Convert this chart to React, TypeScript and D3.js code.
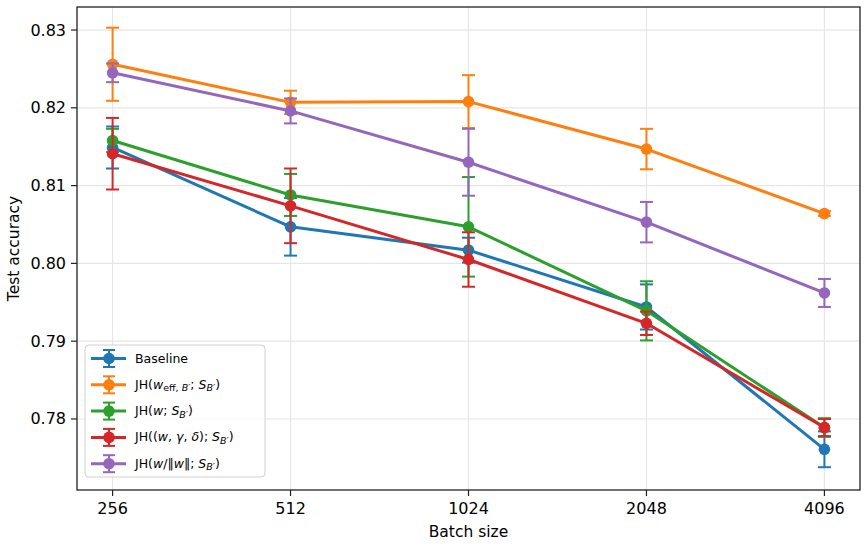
import React from "react";
import * as d3 from "d3";

// batch sizes on the x axis (log2 spaced)
const batchSizes = [256, 512, 1024, 2048, 4096];
const yTicks = [0.78, 0.79, 0.8, 0.81, 0.82, 0.83];

// mean test accuracy and spread per method
const baselineMean = [0.8149, 0.8047, 0.8017, 0.7944, 0.7761];
const baselineErr = [0.0027, 0.0037, 0.0016, 0.0029, 0.0023];
const effMean = [0.8256, 0.8207, 0.8208, 0.8147, 0.8064];
const effErr = [0.0047, 0.0015, 0.0034, 0.0026, 0.0003];
const wMean = [0.8158, 0.8088, 0.8047, 0.7939, 0.7789];
const wErr = [0.0015, 0.0027, 0.0064, 0.0038, 0.0012];
const wgdMean = [0.8141, 0.8074, 0.8005, 0.7923, 0.7789];
const wgdErr = [0.0046, 0.0048, 0.0035, 0.0015, 0.0011];
const normMean = [0.8245, 0.8196, 0.813, 0.8053, 0.7962];
const normErr = [0.0012, 0.0016, 0.0043, 0.0026, 0.0018];

type Seg = { t: string; i?: boolean; sub?: boolean };

const labelBaseline: Seg[] = [{ t: "Baseline" }];
const labelEff: Seg[] = [
  { t: "JH(" },
  { t: "w", i: true },
  { t: "eff, ", sub: true },
  { t: "B′", sub: true, i: true },
  { t: "; " },
  { t: "S", i: true },
  { t: "B′", sub: true, i: true },
  { t: ")" },
];
const labelW: Seg[] = [
  { t: "JH(" },
  { t: "w", i: true },
  { t: "; " },
  { t: "S", i: true },
  { t: "B′", sub: true, i: true },
  { t: ")" },
];
const labelWgd: Seg[] = [
  { t: "JH((" },
  { t: "w", i: true },
  { t: ", " },
  { t: "γ", i: true },
  { t: ", " },
  { t: "δ", i: true },
  { t: "); " },
  { t: "S", i: true },
  { t: "B′", sub: true, i: true },
  { t: ")" },
];
const labelNorm: Seg[] = [
  { t: "JH(" },
  { t: "w", i: true },
  { t: "/‖" },
  { t: "w", i: true },
  { t: "‖; " },
  { t: "S", i: true },
  { t: "B′", sub: true, i: true },
  { t: ")" },
];

const series = [
  { mean: baselineMean, err: baselineErr, color: "#1f77b4", label: labelBaseline },
  { mean: effMean, err: effErr, color: "#ff7f0e", label: labelEff },
  { mean: wMean, err: wErr, color: "#2ca02c", label: labelW },
  { mean: wgdMean, err: wgdErr, color: "#d62728", label: labelWgd },
  { mean: normMean, err: normErr, color: "#9467bd", label: labelNorm },
];

const W = 868;
const H = 545;
const left = 77;
const right = 860;
const top = 7;
const bottom = 490;
const font = "'DejaVu Sans', sans-serif";

function MathLabel({ segs, x, y }: { segs: Seg[]; x: number; y: number }) {
  let inSub = false;
  const parts = segs.map((s, k) => {
    let dy = 0;
    if (s.sub && !inSub) dy = 3.5;
    if (!s.sub && inSub) dy = -3.5;
    inSub = !!s.sub;
    return (
      <tspan
        key={k}
        dy={dy}
        fontStyle={s.i ? "italic" : "normal"}
        fontSize={s.sub ? 9.5 : 12.5}
      >
        {s.t}
      </tspan>
    );
  });
  return (
    <text x={x} y={y} fontFamily={font} fontSize={12.5} fill="#000" dominantBaseline="middle">
      {parts}
    </text>
  );
}

export default function App() {
  const x = d3
    .scaleLinear()
    .domain([Math.log2(256) - 0.2, Math.log2(4096) + 0.2])
    .range([left, right]);
  const y = d3.scaleLinear().domain([0.77087, 0.83296]).range([bottom, top]);
  const bx = (b: number) => x(Math.log2(b));

  const line = d3
    .line<number>()
    .x((_, i) => bx(batchSizes[i]))
    .y((d) => y(d));

  const legendX = 85;
  const legendY = 345;
  const rowGap = 26.3;

  return (
    <div style={{ position: "fixed", left: 0, top: 0 }}>
      <svg width={W} height={H} style={{ display: "block", background: "#fff" }}>
        {/* grid */}
        {batchSizes.map((b) => (
          <line key={"gx" + b} x1={bx(b)} x2={bx(b)} y1={top} y2={bottom} stroke="#e6e6e6" strokeWidth={1.2} />
        ))}
        {yTicks.map((t) => (
          <line key={"gy" + t} x1={left} x2={right} y1={y(t)} y2={y(t)} stroke="#e6e6e6" strokeWidth={1.2} />
        ))}

        {/* series: error bars, line, markers */}
        {series.map((s, si) => (
          <g key={si}>
            {s.mean.map((m, i) => {
              const cx = bx(batchSizes[i]);
              const y0 = y(m - s.err[i]);
              const y1 = y(m + s.err[i]);
              return (
                <g key={i} stroke={s.color} strokeWidth={2}>
                  <line x1={cx} x2={cx} y1={y0} y2={y1} />
                  <line x1={cx - 6.5} x2={cx + 6.5} y1={y0} y2={y0} />
                  <line x1={cx - 6.5} x2={cx + 6.5} y1={y1} y2={y1} />
                </g>
              );
            })}
            <path d={line(s.mean) || ""} fill="none" stroke={s.color} strokeWidth={3} strokeLinejoin="round" />
            {s.mean.map((m, i) => (
              <circle key={"c" + i} cx={bx(batchSizes[i])} cy={y(m)} r={5.8} fill={s.color} />
            ))}
          </g>
        ))}

        {/* legend */}
        <rect
          x={legendX}
          y={legendY}
          width={180}
          height={132}
          rx={4}
          fill="#fff"
          fillOpacity={0.85}
          stroke="#d0d0d0"
          strokeWidth={1}
        />
        {series.map((s, si) => {
          const cy = legendY + 13.5 + si * rowGap;
          const cx = 109;
          return (
            <g key={"lg" + si}>
              <line x1={91} x2={126} y1={cy} y2={cy} stroke={s.color} strokeWidth={3} />
              <g stroke={s.color} strokeWidth={2}>
                <line x1={cx} x2={cx} y1={cy - 8.5} y2={cy + 8.5} />
                <line x1={cx - 6} x2={cx + 6} y1={cy - 8.5} y2={cy - 8.5} />
                <line x1={cx - 6} x2={cx + 6} y1={cy + 8.5} y2={cy + 8.5} />
              </g>
              <circle cx={cx} cy={cy} r={5.8} fill={s.color} />
              <MathLabel segs={s.label} x={135} y={cy} />
            </g>
          );
        })}

        {/* frame */}
        <rect x={left} y={top} width={right - left} height={bottom - top} fill="none" stroke="#222" strokeWidth={1.3} />

        {/* y axis */}
        {yTicks.map((t) => (
          <g key={"yt" + t}>
            <line x1={left - 6} x2={left} y1={y(t)} y2={y(t)} stroke="#222" strokeWidth={1.2} />
            <text
              x={left - 11}
              y={y(t)}
              textAnchor="end"
              dominantBaseline="central"
              fontFamily={font}
              fontSize={16}
              fill="#000"
            >
              {d3.format(".2f")(t)}
            </text>
          </g>
        ))}
        <text
          transform={`translate(14,${(top + bottom) / 2}) rotate(-90)`}
          textAnchor="middle"
          dominantBaseline="central"
          fontFamily={font}
          fontSize={15.5}
          fill="#000"
        >
          Test accuracy
        </text>

        {/* x axis */}
        {batchSizes.map((b) => (
          <g key={"xt" + b}>
            <line x1={bx(b)} x2={bx(b)} y1={bottom} y2={bottom + 6} stroke="#222" strokeWidth={1.2} />
            <text
              x={bx(b)}
              y={bottom + 18}
              textAnchor="middle"
              dominantBaseline="central"
              fontFamily={font}
              fontSize={16}
              fill="#000"
            >
              {b}
            </text>
          </g>
        ))}
        <text
          x={(left + right) / 2}
          y={532}
          textAnchor="middle"
          dominantBaseline="central"
          fontFamily={font}
          fontSize={15.5}
          fill="#000"
        >
          Batch size
        </text>
      </svg>
    </div>
  );
}
